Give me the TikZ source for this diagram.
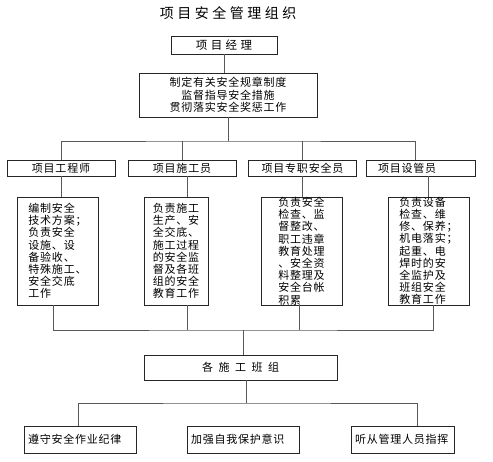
\documentclass[tikz,border=0pt]{standalone}
\usepackage{fontspec}
\setmainfont{Noto Sans CJK SC}[LetterSpace=7]
\usetikzlibrary{positioning,calc}

\begin{document}
\begin{tikzpicture}[
    x=1pt, y=-1pt,
    box/.style={draw=black!85, line width=0.8pt, inner sep=0pt,
                font=\fontsize{11}{12.2}\selectfont},
    rolebox/.style={box, minimum width=108pt, minimum height=16pt},
    taskbox/.style={box, minimum width=81pt, minimum height=108pt, align=left},
    rulebox/.style={box, minimum height=27pt, align=left, inner xsep=4pt},
    link/.style={draw=black!65, line width=0.8pt}
]
    \useasboundingbox (0,0) rectangle (493,462);

    \node[font=\fontsize{14}{16}\selectfont\addfontfeature{LetterSpace=25}] (title) at (228,13) {项目安全管理组织};

    \node[box, minimum width=106pt, minimum height=18pt,
          font=\fontsize{11.5}{13}\selectfont\addfontfeature{LetterSpace=30}] (mgr) at (224,45) {项目经理};
    \node[box, minimum width=178pt, minimum height=44pt, align=center,
          font=\fontsize{11}{12.5}\selectfont] (duty) at (228,95)
        {制定有关安全规章制度\\监督指导安全措施\\贯彻落实安全奖惩工作};

    % four posts
    \node[rolebox] (eng) at (61,168) {项目工程师};
    \node[rolebox] (cons) at (182,168) {项目施工员};
    \node[rolebox] (safe) at (302.5,168) {项目专职安全员};
    \node[rolebox, text width=109pt, align=left, minimum width=0pt] (equip) at (420.5,168) {\hspace*{12pt}项目设管员};

    \node[taskbox] (engtask) at (57.5,251) {编制安全\\技术方案；\\负责安全\\设施、设\\备验收、\\特殊施工、\\安全交底\\工作};
    \node[taskbox, minimum width=64pt] (constask) at (176,251) {负责施工\\生产、安\\全交底、\\施工过程\\的安全监\\督及各班\\组的安全\\教育工作};
    \node[taskbox] (safetask) at (301.5,251) {负责安全\\检查、监\\督整改、\\职工违章\\教育处理\\、安全资\\料整理及\\安全台帐\\积累};
    \node[taskbox] (equiptask) at (428.5,251) {负责设备\\检查、维\\修、保养；\\机电落实；\\起重、电\\焊时的安\\全监护及\\班组安全\\教育工作};

    \node[box, minimum width=193pt, minimum height=25pt,
          font=\fontsize{11}{12.2}\selectfont\addfontfeature{LetterSpace=50}] (team) at (240.5,367.5) {各施工班组};

    \node[rulebox, text width=104pt] (rule1) at (80,439.5) {遵守安全作业纪律};
    \node[rulebox, text width=104pt] (rule2) at (243,439.5) {加强自我保护意识};
    \node[rulebox, text width=95pt] (rule3) at (402.5,439.5) {听从管理人员指挥};

    \coordinate (bus1) at (228,141);
    \coordinate (bus2) at (243,330);
    \coordinate (bus3) at (246,403);

    \draw[link] (mgr.south) -- (mgr.south |- duty.north);
    \draw[link] (duty.south) -- (bus1);
    \draw[link] (eng.north) |- (bus1) -| ([xshift=-5pt]equip.north);
    \draw[link] (cons.north) -- (cons.north |- bus1);
    \draw[link] (safe.north) -- (safe.north |- bus1);

    \draw[link] (eng.south) -- (eng.south |- engtask.north);
    \draw[link] ([xshift=11pt]constask.north) -- ([xshift=11pt]constask.north |- cons.south);
    \draw[link] (safe.south) -- (safe.south |- safetask.north);
    \draw[link] (equiptask.north) -- (equiptask.north |- equip.south);

    \draw[link] ([xshift=-4.5pt]engtask.south) |- (bus2) -| ([xshift=4.5pt]equiptask.south);
    \draw[link] ([xshift=11pt]constask.south) -- ([xshift=11pt]constask.south |- bus2);
    \draw[link] ([xshift=-2.5pt]safetask.south) -- ([xshift=-2.5pt]safetask.south |- bus2);
    \draw[link] (bus2) -- (bus2 |- team.north);

    \draw[link] (team.south -| bus3) -- (bus3);
    \draw[link] ([xshift=-2pt]rule1.north) |- (bus3) -| ([xshift=14.5pt]rule3.north);
\end{tikzpicture}
\end{document}
